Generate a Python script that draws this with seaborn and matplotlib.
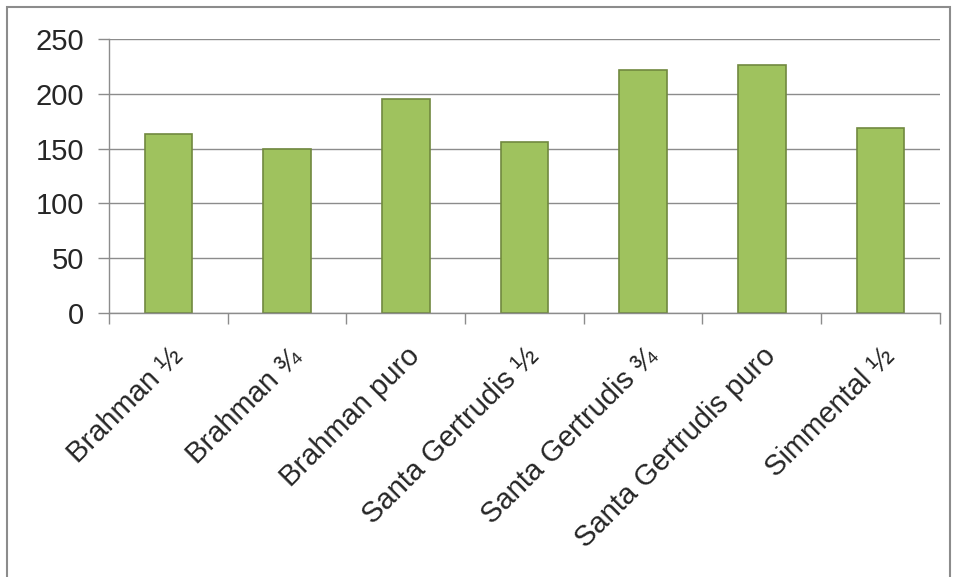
import matplotlib
matplotlib.use('Agg')
import matplotlib.pyplot as plt
import numpy as np
import pandas as pd
import seaborn as sns
from matplotlib.patches import Rectangle

breeds = ['Brahman ½', 'Brahman ¾', 'Brahman puro', 'Santa Gertrudis ½',
          'Santa Gertrudis ¾', 'Santa Gertrudis puro', 'Simmental ½']
values = [163, 150, 195, 156, 222, 226, 169]
yticks = [0, 50, 100, 150, 200, 250]

sns.set_style('white')
plt.rcParams['font.family'] = ['Liberation Sans', 'DejaVu Sans']

fig = plt.figure(figsize=(9.57, 5.77), dpi=100)
ax = fig.add_axes([0.114, 0.4575, 0.868, 0.475])

df = pd.DataFrame({'breed': breeds, 'value': values})
sns.barplot(data=df, x='breed', y='value', color='#9fc25e', width=0.4,
            edgecolor='#71893f', linewidth=1.2, saturation=1, ax=ax)

ax.set_ylim(0, 250)
ax.set_xlim(-0.5, len(breeds) - 0.5)
ax.set_yticks(yticks)
ax.set_yticklabels([str(v) for v in yticks], fontsize=21)
ax.yaxis.grid(True, color='#8c8c8c', linewidth=1)
ax.set_axisbelow(True)
ax.set_xlabel('')
ax.set_ylabel('')

ax.set_xticks(range(len(breeds)))
ax.set_xticklabels(breeds, rotation=45, ha='right', rotation_mode='anchor', fontsize=21)
ax.set_xticks(np.arange(-0.5, len(breeds), 1), minor=True)
ax.tick_params(axis='x', which='major', length=0, pad=21)
ax.tick_params(axis='x', which='minor', length=8, color='#8c8c8c', width=1, direction='out', bottom=True)
ax.tick_params(axis='y', length=8, color='#8c8c8c', width=1, direction='out', left=True, pad=10)

for side in ['top', 'right']:
    ax.spines[side].set_visible(False)
for side in ['left', 'bottom']:
    ax.spines[side].set_color('#8c8c8c')
    ax.spines[side].set_linewidth(1)

fig.patches.append(Rectangle((7 / 957, -0.05), 943 / 957, 1 - 7 / 577 + 0.05,
                             transform=fig.transFigure, fill=False,
                             edgecolor='#8c8c8c', linewidth=1.5))

fig.savefig('out.png', dpi=100)
